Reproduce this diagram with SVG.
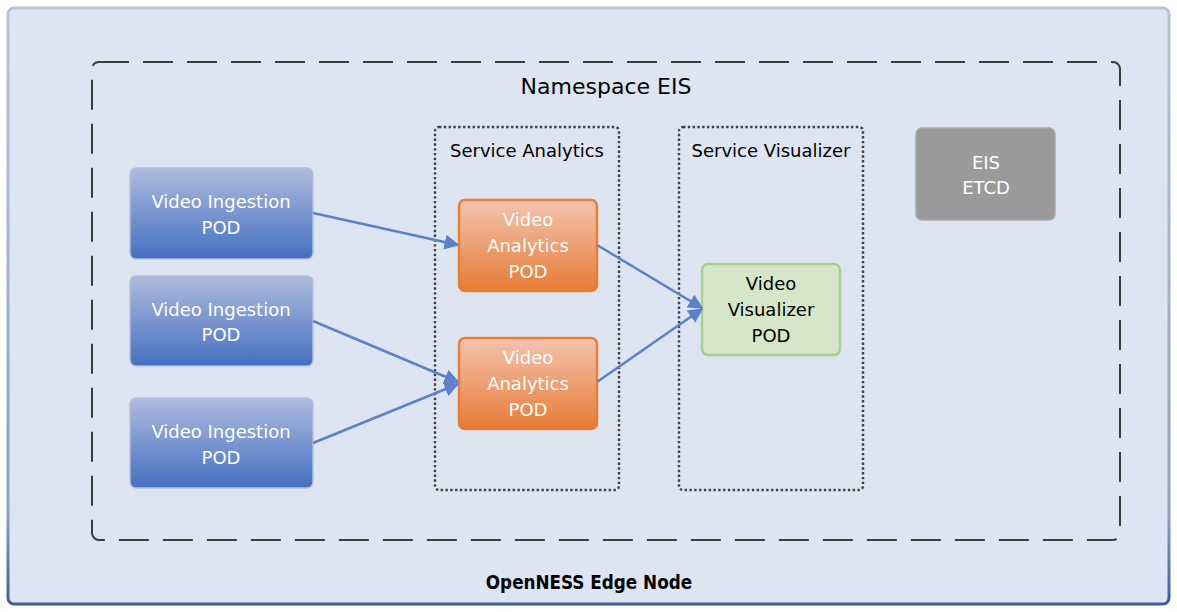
<svg xmlns="http://www.w3.org/2000/svg" width="1177" height="612" viewBox="0 0 1177 612">
<defs>
  <linearGradient id="outerStroke" x1="0" y1="0" x2="0" y2="1">
    <stop offset="0" stop-color="#BAC2D6"/>
    <stop offset="0.85" stop-color="#8FA0C8"/>
    <stop offset="1" stop-color="#3D5C9C"/>
  </linearGradient>
  <linearGradient id="blueFill" x1="0" y1="0" x2="0" y2="1">
    <stop offset="0" stop-color="#AFBBDD"/>
    <stop offset="1" stop-color="#4470C2"/>
  </linearGradient>
  <linearGradient id="orangeFill" x1="0" y1="0" x2="0" y2="1">
    <stop offset="0" stop-color="#F4C4B0"/>
    <stop offset="1" stop-color="#E67B33"/>
  </linearGradient>
  <marker id="arrow" viewBox="0 0 10 10" refX="9" refY="5" markerWidth="6" markerHeight="6" orient="auto" markerUnits="strokeWidth">
    <path d="M0,0 L10,5 L0,10 z" fill="#5B80CC"/>
  </marker>
</defs>
<style>
  .txt { font-family: "DejaVu Sans", "Liberation Sans", sans-serif; font-size: 18px; text-anchor: middle; dominant-baseline: central; }
  .title { font-size: 22px; }
  .footer { font-size: 18.7px; font-weight: bold; font-stretch: condensed; }
  .white { fill: #FFFFFF; }
  .black { fill: #000000; }
  .ingest { fill: url(#blueFill); stroke: #B4C0E0; stroke-width: 1.5; }
  .analytics { fill: url(#orangeFill); stroke: #EC7E33; stroke-width: 2.5; }
  .dotted { fill: none; stroke: #404040; stroke-width: 2.4; stroke-dasharray: 2.4 2.4; }
  .conn { stroke: #5B80CC; stroke-width: 2.5; fill: none; marker-end: url(#arrow); }
</style>

<g id="edge-node">
  <rect x="8" y="8" width="1161" height="596" rx="6" fill="#DEE5F2" stroke="url(#outerStroke)" stroke-width="3"/>
  <text class="txt black footer" x="589" y="582">OpenNESS Edge Node</text>
</g>

<g id="namespace-eis">
  <rect x="92" y="62" width="1028" height="478" rx="7" fill="none" stroke="#3C3C3C" stroke-width="2" stroke-dasharray="30 14"/>
  <text class="txt black title" x="606" y="86">Namespace EIS</text>
</g>

<g id="service-analytics">
  <rect class="dotted" x="435" y="127" width="184" height="363" rx="4"/>
  <text class="txt black" x="527" y="150">Service Analytics</text>
</g>

<g id="service-visualizer">
  <rect class="dotted" x="679" y="127" width="184" height="363" rx="4"/>
  <text class="txt black" x="771" y="150">Service Visualizer</text>
</g>

<g id="ingestion-1">
  <rect class="ingest" x="130" y="168" width="183" height="91" rx="6"/>
  <text class="txt white" x="221" y="201">Video Ingestion</text>
  <text class="txt white" x="221" y="227">POD</text>
</g>
<g id="ingestion-2">
  <rect class="ingest" x="130" y="276" width="183" height="90" rx="6"/>
  <text class="txt white" x="221" y="309">Video Ingestion</text>
  <text class="txt white" x="221" y="334">POD</text>
</g>
<g id="ingestion-3">
  <rect class="ingest" x="130" y="398" width="183" height="90" rx="6"/>
  <text class="txt white" x="221" y="431">Video Ingestion</text>
  <text class="txt white" x="221" y="457">POD</text>
</g>

<g id="analytics-1">
  <rect class="analytics" x="459" y="200" width="138" height="91" rx="6"/>
  <text class="txt white" x="528" y="219">Video</text>
  <text class="txt white" x="528" y="245">Analytics</text>
  <text class="txt white" x="528" y="271">POD</text>
</g>
<g id="analytics-2">
  <rect class="analytics" x="459" y="338" width="138" height="91" rx="6"/>
  <text class="txt white" x="528" y="357">Video</text>
  <text class="txt white" x="528" y="383">Analytics</text>
  <text class="txt white" x="528" y="409">POD</text>
</g>

<g id="visualizer">
  <rect x="702" y="264" width="138" height="91" rx="6" fill="#D5E7C9" stroke="#A8D18D" stroke-width="2.5"/>
  <text class="txt black" x="771" y="283">Video</text>
  <text class="txt black" x="771" y="309">Visualizer</text>
  <text class="txt black" x="771" y="335">POD</text>
</g>

<g id="eis-etcd">
  <rect x="916" y="128" width="139" height="92" rx="6" fill="#9A9A9A" stroke="#A8A8A8" stroke-width="1.5"/>
  <text class="txt white" x="986" y="162">EIS</text>
  <text class="txt white" x="986" y="187">ETCD</text>
</g>

<g id="connectors">
  <line class="conn" x1="313" y1="213" x2="458" y2="245"/>
  <line class="conn" x1="313" y1="321" x2="458" y2="382"/>
  <line class="conn" x1="313" y1="443" x2="458" y2="384"/>
  <line class="conn" x1="597" y1="245" x2="702" y2="308"/>
  <line class="conn" x1="597" y1="382" x2="702" y2="309"/>
</g>
</svg>
